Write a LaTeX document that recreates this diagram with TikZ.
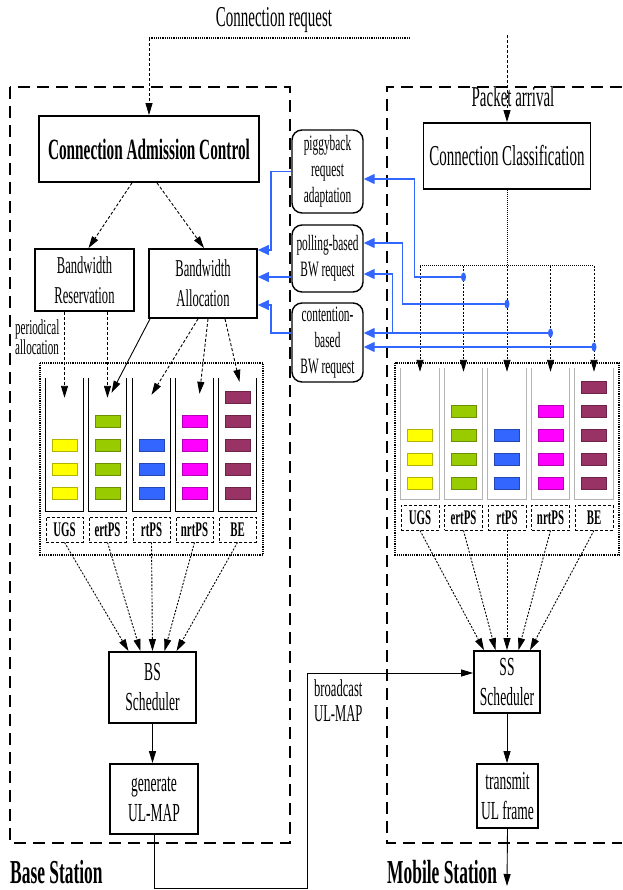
\documentclass[tikz,border=0pt]{standalone}
\usepackage{fontspec}
\setmainfont[FakeStretch=0.52]{Liberation Serif}
\usetikzlibrary{arrows.meta,positioning,calc}

\definecolor{reqColor}{HTML}{3366FF}
\definecolor{ugsColor}{HTML}{FFFF00}
\definecolor{ertColor}{HTML}{99CC00}
\definecolor{rtColor}{HTML}{3366FF}
\definecolor{nrtColor}{HTML}{FF00FF}
\definecolor{beColor}{HTML}{993366}
\definecolor{queueGray}{HTML}{B4B4B4}
\newcommand{\fsz}[2]{\fontsize{#1}{#2}\selectfont}

\tikzset{
	station/.style={line width=2.2pt, dash pattern=on 12pt off 7pt},
	blk/.style={draw, line width=1.8pt, inner sep=0pt, align=center},
	reqbox/.style={draw, line width=1.4pt, rounded corners=3.5mm, inner sep=0pt,
		align=center, minimum width=71pt, font=\fsz{21.9}{26}},
	qbox/.style={minimum width=37pt, minimum height=133pt, inner sep=0pt},
	qlab/.style={draw, densely dashed, line width=0.9pt, inner sep=0pt,
		minimum width=37pt, minimum height=25pt, font=\bfseries\fsz{20.8}{22}},
	pkt/.style={draw=#1!70!black, fill=#1, line width=0.5pt,
		minimum width=25pt, minimum height=12pt, inner sep=0pt},
	grp/.style={densely dotted, line width=1.2pt},
	solidarrow/.style={->, line width=0.9pt},
	dasharrow/.style={->, dash pattern=on 3pt off 2pt, line width=0.9pt},
	dotarrow/.style={->, dash pattern=on 2pt off 1.5pt, line width=0.9pt},
	reqarrow/.style={draw=reqColor, line width=1.3pt, -{Triangle[length=11pt,width=10pt]}}
}

\begin{document}
\begin{tikzpicture}[x=1pt, y=-1pt, >={Triangle[length=12pt,width=7pt]}]
	\useasboundingbox (0,0) rectangle (622,890);
	
	% stations
	\draw[station] (10,87) rectangle (290,843);
	\draw[station] (622,87) -| (387,843) -- (622,843);
	\node[anchor=west, inner sep=0pt, font=\bfseries\fsz{33.5}{36}] (bsname) at (10,872) {Base Station};
	\node[anchor=west, inner sep=0pt, font=\bfseries\fsz{33.5}{36}] (msname) at (387,872) {Mobile Station};
	
	% inputs
	\node[font=\fsz{28.8}{30}] (creq) at (274,20) {Connection request};
	\node[font=\fsz{28.8}{30}] (pktarr) at (513,97) {Packet arrival};
	\coordinate (crL) at (149,38);
	\coordinate (crR) at (410,38);
	\coordinate (pktin) at (507,35);
	
	\node[blk, minimum width=220pt, minimum height=66pt, font=\bfseries\fsz{29.4}{30}] (cac) at (149,149) {Connection Admission Control};
	\node[blk, minimum width=167pt, minimum height=66pt, font=\fsz{28.8}{30}] (cc) at (507,156) {Connection Classification};
	
	\node[blk, minimum width=99pt, minimum height=62pt, font=\fsz{24.2}{30}] (bwres) at (84.5,280) {Bandwidth\\Reservation};
	\node[blk, minimum width=108pt, minimum height=69pt, font=\fsz{24.2}{30}] (bwall) at (203,283.5) {Bandwidth\\Allocation};
	\node[anchor=west, align=left, inner sep=0pt, font=\fsz{21.3}{20}] (peri) at (15,337) {periodical\\allocation};
	
	% bandwidth requests
	\node[reqbox, minimum height=83pt] (pig) at (327.5,171.5) {piggyback\\request\\adaptation};
	\node[reqbox, minimum height=67pt] (poll) at (327.5,258.5) {polling-based\\BW request};
	\node[reqbox, minimum height=79pt] (cont) at (327.5,342.5) {contention-\\based\\BW request};
	
	% queues
	\draw[grp] (40,363) rectangle (263,555);
	\draw[grp] (395,363) rectangle (619,555);
	\foreach \i/\x/\n/\col/\lab in {1/64.5/3/ugsColor/UGS, 2/107.5/4/ertColor/ertPS,
		3/151.5/3/rtColor/rtPS, 4/194.5/4/nrtColor/nrtPS, 5/237.5/5/beColor/BE}{
		\node[qbox] (ql\i) at (\x,444.5) {};
		\draw[line width=1.2pt] (ql\i.north west) |- (ql\i.south east) -- (ql\i.north east);
		\foreach \k in {1,...,\n}
			\node[pkt=\col] at (\x,{517-24*\k}) {};
		\node[qlab] (ll\i) at (\x,529.5) {\lab};
	}
	\foreach \i/\x/\n/\col/\lab in {1/420/3/ugsColor/UGS, 2/463.5/4/ertColor/ertPS,
		3/507/3/rtColor/rtPS, 4/550.5/4/nrtColor/nrtPS, 5/594/5/beColor/BE}{
		\node[qbox, minimum width=38pt, minimum height=131pt] (qr\i) at (\x,433.5) {};
		\draw[queueGray, line width=1.2pt] (qr\i.north west) |- (qr\i.south east) -- (qr\i.north east);
		\foreach \k in {1,...,\n}
			\node[pkt=\col] at (\x,{507-24*\k}) {};
		\node[qlab, minimum width=38pt] (lr\i) at (\x,517.5) {\lab};
	}
	
	% schedulers
	\node[blk, minimum width=87pt, minimum height=71pt, font=\fsz{26}{30}] (bss) at (152.5,687.5) {BS\\Scheduler};
	\node[blk, minimum width=88pt, minimum height=70pt, font=\fsz{26}{30}] (gen) at (154,799) {generate\\UL-MAP};
	\node[blk, minimum width=66pt, minimum height=62pt, font=\fsz{26}{30}] (sss) at (507,682) {SS\\Scheduler};
	\node[blk, minimum width=61pt, minimum height=64pt, font=\fsz{26}{30}] (tx) at (507.5,796) {transmit\\UL frame};
	\node[anchor=north west, align=left, inner sep=0pt, font=\fsz{24.2}{25}] (bclab) at (314,680) {broadcast\\UL-MAP};
	
	% connection setup
	\draw[densely dotted, line width=1.2pt] (crR) -- (crL);
	\draw[dasharrow] (crL) -- (cac.north);
	\draw[dasharrow] (pktin) -- (cc.north);
	\draw[dasharrow] ([xshift=-17]cac.south) -- ([xshift=4]bwres.north);
	\draw[dasharrow] ([xshift=8]cac.south) -- ([xshift=1]bwall.north);
	\draw[dasharrow] (bwres.south -| ql1.north) -- ([yshift=-20]ql1.north);
	\draw[dasharrow] (bwres.south -| ql2.north) -- ([yshift=-20]ql2.north);
	\draw[solidarrow] ([xshift=-53]bwall.south) -- ([xshift=4,yshift=-15]ql2.north);
	\draw[dasharrow] ([xshift=-5]bwall.south) -- ([yshift=-17]ql3.north);
	\draw[dasharrow] ([xshift=5]bwall.south) -- ([xshift=5,yshift=-16]ql4.north);
	\draw[dasharrow] ([xshift=22]bwall.south) -- ([xshift=2,yshift=-4]ql5.north);
	
	% classification
	\coordinate (bus) at (507,266);
	\draw[densely dotted, line width=1pt] (cc.south) -- (bus);
	\draw[densely dotted, line width=1pt] (bus -| qr1.north) -- (bus -| qr5.north);
	\foreach \i in {1,...,5}
		\draw[dotarrow] (bus -| qr\i.north) -- ([yshift=-4]qr\i.north);
	
	% requests
	\coordinate (dot2) at (463.5,277);
	\coordinate (dot3) at (507,304);
	\coordinate (dot4) at (550.5,333);
	\coordinate (dot5) at (594,347);
	\draw[reqarrow] (dot2) -| ([xshift=51,yshift=-7.5]pig.east) -- ([yshift=-7.5]pig.east);
	\draw[reqarrow] (dot3) -| ([xshift=39,yshift=15.5]poll.east) -- ([yshift=15.5]poll.east);
	\draw[reqarrow] (dot4) -- (dot4 -| cont.east);
	\draw[reqarrow] ($(dot4 -| cont.east)+(29,0)$) |- ([yshift=-15.5]poll.east);
	\draw[reqarrow] (dot5) -- (dot5 -| cont.east);
	\foreach \i in {2,...,5}
		\fill[reqColor] (dot\i) ellipse (2.5pt and 4.5pt);
	\draw[reqarrow] (pig.west) -| ([xshift=13,yshift=33.5]bwall.east) -- ([yshift=33.5]bwall.east);
	\draw[reqarrow] ([yshift=-18.5]poll.west) -- ([yshift=6.5]bwall.east);
	\draw[reqarrow] ([yshift=9.5]cont.west) -| ([xshift=13,yshift=-21.5]bwall.east) -- ([yshift=-21.5]bwall.east);
	
	% scheduling
	\foreach \i in {1,...,5}{
		\draw[dotarrow] (ll\i.south) -- ([xshift={(\i-3)*12}]bss.north);
		\draw[dotarrow] (lr\i.south) -- ([xshift={(\i-3)*11.5}]sss.north);
	}
	\coordinate (bcast) at (307,888);
	\coordinate (ulout) at (507,886);
	\draw[solidarrow] (bss.south) -- (bss.south |- gen.north);
	\draw[solidarrow] (sss.south) -- (sss.south |- tx.north);
	\draw[solidarrow] (gen.south) |- (bcast) |- ([yshift=9]sss.west);
	\draw[solidarrow] (tx.south) -- (ulout);
\end{tikzpicture}
\end{document}
